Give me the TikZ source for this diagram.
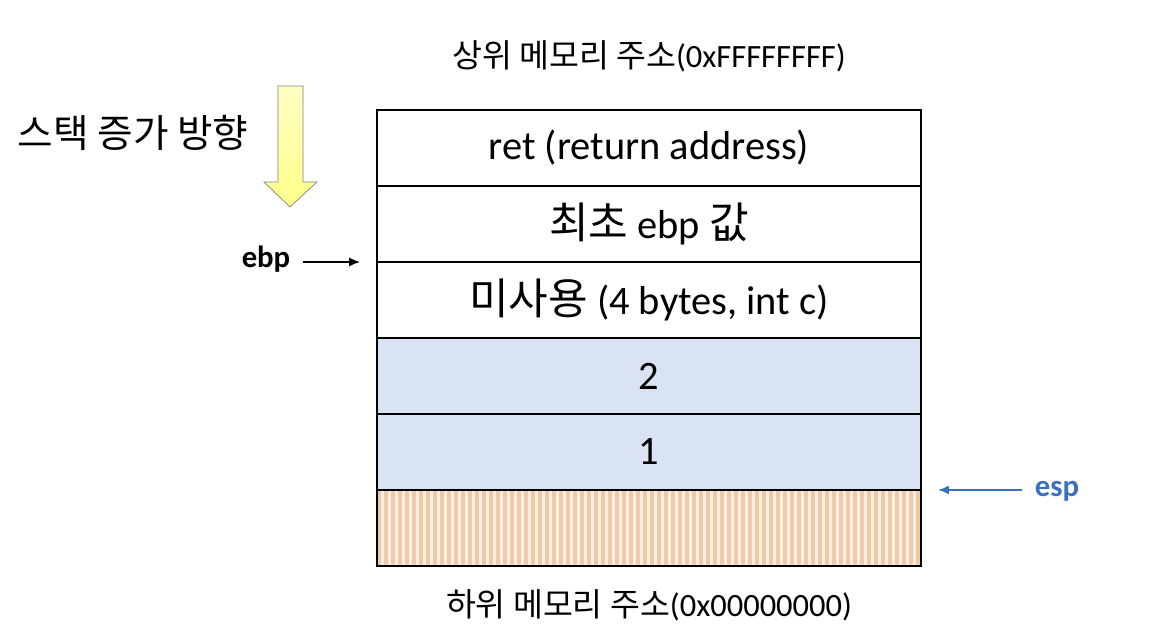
\documentclass[tikz,border=0pt]{standalone}
\usepackage{fontspec}
\setmainfont{Carlito}
\newfontfamily\kr{Noto Sans CJK KR}
\usetikzlibrary{arrows.meta, positioning}
\definecolor{slotblue}{HTML}{DAE3F3}
\definecolor{stripe}{HTML}{F2C9A6}
\definecolor{stripebg}{HTML}{FCEFE6}
\definecolor{espblue}{HTML}{3A70C0}
\definecolor{growfill}{HTML}{FFFF88}
\newcommand\krbig[1]{{\kr\fontsize{24.5}{28}\selectfont #1}}
\tikzset{cell/.style={rectangle,draw,line width=1pt,outer sep=0pt,inner sep=0pt,minimum width=10.88cm,minimum height=1.52cm,font=\fontsize{23}{27}\selectfont},used/.style={cell,fill=slotblue},free/.style={cell,fill=stripebg},line/.style={-{Latex[length=2.2mm,width=1.8mm]},line width=0.8pt},bound/.style={font=\fontsize{18.5}{22}\selectfont},note/.style={font=\fontsize{17.5}{21}\selectfont\bfseries}}

\begin{document}
\begin{tikzpicture}[x=0.02cm,y=-0.02cm]
\useasboundingbox (0,0) rectangle (1158,632);
\node[cell] (ret) at (649,148) {ret (return address)};
\node[cell, below=0pt of ret] (oldebp) {\krbig{최초} ebp \krbig{값}};
\node[cell, below=0pt of oldebp] (unused) {\krbig{미사용} (4 bytes, int c)};
\node[used, below=0pt of unused] (argtwo) {2};
\node[used, below=0pt of argtwo] (argone) {1};
\node[free, below=0pt of argone, path picture={
  \foreach \k in {0,...,78}
    \fill[stripe] ([xshift=\k*0.14cm]path picture bounding box.north west) rectangle ++(4,80);
}] (freearea) {};
% memory bounds
\node[bound, above=6.3mm of ret] (hightop) {{\kr 상위 메모리 주소}(0xFFFFFFFF)};
\node[bound, below=3.4mm of freearea] (lowbottom) {{\kr 하위 메모리 주소}(0x00000000)};
% growth direction
\node[font=\kr\fontsize{22}{26}\selectfont] (growlbl) at (133,133) {스택 증가 방향};
\draw[draw=gray, top color=growfill!50!white, bottom color=growfill] (278,86) -- (303,86) -- (303,182) -- (317,182) -- (290,207) -- (264,182) -- (278,182) -- cycle;
% registers
\node[note] (ebplbl) at (266,259) {ebp};
\coordinate (ebptip) at ([xshift=-0.34cm]oldebp.south west);
\draw[line] ([xshift=4pt]ebplbl.east |- ebptip) -- (ebptip);
\node[note, text=espblue] (esplbl) at (1057,491) {esp};
\coordinate (esptip) at ([xshift=0.34cm]argone.south east);
\draw[line, espblue, line width=1.1pt] ([xshift=-4pt]esplbl.west |- esptip) -- (esptip);
\end{tikzpicture}
\end{document}
